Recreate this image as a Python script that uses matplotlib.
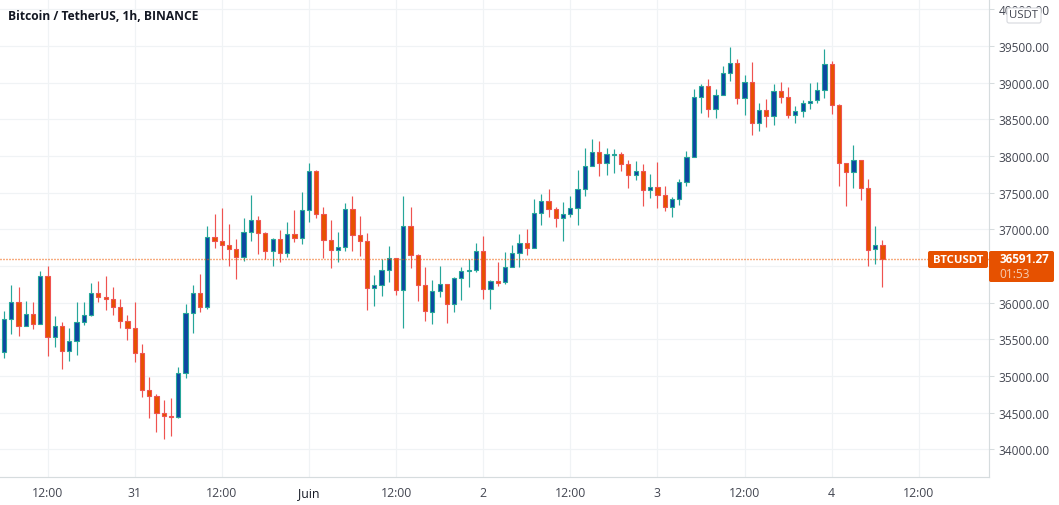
"""plot.py - BTC/USDT 1h candles, redrawn as a trading-view style chart."""
import numpy as np
import matplotlib
matplotlib.use("Agg")
import matplotlib.pyplot as plt
from matplotlib.patches import FancyBboxPatch
from matplotlib.transforms import Affine2D

UP_FILL, UP_EDGE = "#0d47a1", "#26a69a"
DOWN_FILL, DOWN_EDGE = "#e65100", "#ef5350"
GRID = "#f0f3f5"
AXIS = "#d6dcde"
TEXT = "#434651"

W, H = 1059, 506

# candles from 30 May 06:00, one per hour
opens = [35323, 35773, 36004, 35677, 35841, 35704, 36359, 35527, 35677, 35346,
         35473, 35732, 35827, 36127, 36081, 36054, 35936, 35745, 35650, 35309,
         34805, 34723, 34491, 34460, 34446, 35037, 35854, 36127, 35936, 36890,
         36836, 36781, 36727, 36618, 36958, 37122, 36945, 36699, 36863, 36672,
         36931, 36876, 37258, 37799, 37204, 36849, 36713, 36754, 37272, 36917,
         36836, 36195, 36236, 36440, 36604, 36168, 37040, 36645, 36236, 35869,
         36155, 36250, 35978, 36332, 36428, 36441, 36700, 36182, 36291, 36278,
         36482, 36673, 36809, 36741, 37218, 37382, 37273, 37150, 37204, 37286,
         37545, 37858, 38049, 37899, 38017, 38022, 37885, 37736, 37790, 37531,
         37572, 37472, 37299, 37408, 37640, 37981, 38799, 38949, 38635, 38826,
         39126, 39262, 38785, 39003, 38445, 38622, 38540, 38881, 38799, 38554,
         38608, 38717, 38758, 38894, 39249, 38690, 37899, 37776, 37940, 37558,
         36727, 36781]
highs = [35886, 36240, 36213, 36022, 36009, 36431, 36499, 35818, 35736, 35654,
         36004, 36004, 36268, 36295, 36363, 36213, 36050, 35832, 36009, 35436,
         34987, 34755, 34673, 34700, 35123, 35982, 36240, 36390, 37045, 37208,
         37290, 37072, 36867, 37154, 37467, 37181, 36963, 36881, 36990, 37099,
         37263, 37508, 37903, 37808, 37299, 37126, 36963, 37358, 37453, 37181,
         36949, 36377, 36590, 36772, 36604, 37453, 37304, 36660, 36486, 36309,
         36500, 36250, 36350, 36487, 36591, 36814, 36909, 36305, 36555, 36691,
         36782, 36932, 37005, 37413, 37482, 37550, 37304, 37373, 37454, 37808,
         38108, 38231, 38203, 38108, 38094, 38054, 37945, 37931, 37890, 37754,
         37917, 37590, 37436, 37686, 38067, 38913, 38981, 39049, 38913, 39226,
         39485, 39321, 39103, 39281, 38722, 38776, 38981, 39008, 38940, 38681,
         38763, 38994, 39008, 39458, 39294, 38708, 37899, 38149, 37940, 37686,
         37045, 36854]
lows = [35250, 35573, 35545, 35677, 35641, 35704, 35273, 35395, 35096, 35205,
        35286, 35695, 35813, 36009, 35900, 35832, 35654, 35491, 35191, 34714,
        34428, 34237, 34142, 34183, 34432, 34973, 35586, 35873, 35913, 36745,
        36595, 36499, 36322, 36568, 36840, 36663, 36595, 36499, 36554, 36622,
        36827, 36799, 37099, 37154, 36608, 36472, 36554, 36704, 36704, 36636,
        35900, 35954, 36091, 36281, 36104, 35654, 36472, 36022, 35750, 35710,
        36078, 35723, 35873, 36037, 36214, 36419, 36051, 35914, 36228, 36255,
        36482, 36487, 36650, 36741, 37059, 37168, 37032, 36841, 37168, 37059,
        37454, 37858, 37726, 37740, 37767, 37795, 37563, 37672, 37318, 37427,
        37290, 37249, 37168, 37331, 37590, 37981, 38585, 38531, 38517, 38826,
        39022, 38708, 38558, 38286, 38340, 38395, 38422, 38722, 38517, 38449,
        38531, 38640, 38722, 38790, 38572, 37590, 37318, 37563, 37399, 36500,
        36527, 36214]
closes = [35773, 36004, 35677, 35841, 35704, 36359, 35527, 35677, 35346, 35473,
          35732, 35827, 36127, 36081, 36054, 35936, 35745, 35650, 35309, 34805,
          34723, 34491, 34460, 34446, 35037, 35854, 36127, 35936, 36890, 36836,
          36781, 36727, 36618, 36958, 37122, 36945, 36699, 36863, 36672, 36931,
          36876, 37258, 37799, 37204, 36849, 36713, 36754, 37272, 36917, 36836,
          36195, 36236, 36440, 36604, 36168, 37040, 36645, 36236, 35882, 36155,
          36250, 35978, 36332, 36428, 36441, 36700, 36182, 36291, 36269, 36482,
          36673, 36809, 36741, 37218, 37382, 37273, 37150, 37204, 37286, 37545,
          37858, 38049, 37899, 38022, 38026, 37885, 37736, 37790, 37531, 37572,
          37472, 37299, 37408, 37640, 37981, 38799, 38949, 38635, 38826, 39126,
          39262, 38785, 39003, 38445, 38622, 38540, 38881, 38799, 38554, 38608,
          38717, 38744, 38894, 39249, 38690, 37899, 37776, 37940, 37558, 36713,
          36781, 36591.27]

last_price = 36591.27
price_ticks = list(range(34000, 40500, 500))
time_ticks = [6, 18, 30, 42, 54, 66, 78, 90, 102, 114, 126]
time_labels = ["12:00", "31", "12:00", "Juin", "12:00", "2",
               "12:00", "3", "12:00", "4", "12:00"]

plt.rcParams["font.family"] = ["Open Sans", "DejaVu Sans"]

fig = plt.figure(figsize=(W / 100, H / 100), dpi=100)
ax = fig.add_axes([0, 28 / H, 989 / W, 478 / H])
ax.set_xlim(-0.55, 135.67)
ax.set_ylim(33624, 40139)

o = np.array(opens, dtype=float)
h = np.array(highs, dtype=float)
l = np.array(lows, dtype=float)
c = np.array(closes, dtype=float)
x = np.arange(len(o))
up = c >= o

# wicks under bodies
ax.vlines(x[up], l[up], h[up], color=UP_EDGE, lw=0.85, zorder=3)
ax.vlines(x[~up], l[~up], h[~up], color=DOWN_EDGE, lw=0.85, zorder=3)
bottoms = np.minimum(o, c)
heights = np.abs(c - o)
ax.bar(x[up], heights[up], 0.58, bottoms[up], color=UP_FILL,
       edgecolor=UP_EDGE, lw=0.8, zorder=4)
ax.bar(x[~up], heights[~up], 0.58, bottoms[~up], color=DOWN_FILL,
       edgecolor=DOWN_EDGE, lw=0.8, zorder=4)

ax.axhline(last_price, color="#f05a00", lw=1.0, ls=(0, (0.72, 1.44)), zorder=5,
           dash_capstyle="butt")

# axes and grid
ax.set_axisbelow(True)
ax.grid(True, color=GRID, lw=0.85)
for s in ("top", "left"):
    ax.spines[s].set_visible(False)
for s in ("right", "bottom"):
    ax.spines[s].set_color(AXIS)
    ax.spines[s].set_linewidth(0.85)
ax.yaxis.tick_right()
ax.set_yticks(price_ticks)
# 36500 sits behind the last-price box
ax.set_yticklabels(["" if p == 36500 else f"{p:.2f}" for p in price_ticks])
ax.set_xticks(time_ticks)
ax.set_xticklabels(time_labels)
ax.tick_params(axis="y", length=3.4, width=0.75, color=AXIS, labelcolor=TEXT,
               labelsize=8.6, pad=3.6)
ax.tick_params(axis="x", length=0, labelcolor=TEXT, labelsize=8.8, pad=6.5)
ax.get_xticklabels()[3].set_color("#131722")

# overlays are placed in pixels, y going down
px = Affine2D().scale(1, -1).translate(0, H)


def box(x0, y0, x1, y1, face, edge="none", lw=0):
    fig.add_artist(FancyBboxPatch((x0, y0), x1 - x0, y1 - y0,
                                  boxstyle="round,pad=0,rounding_size=2",
                                  fc=face, ec=edge, lw=lw, transform=px, zorder=6))


def label(x0, y0, s, **kw):
    fig.add_artist(plt.Text(x0, y0, s, transform=px, va="center", zorder=7, **kw))


box(928, 252, 988, 269, DOWN_FILL)
box(989, 252, 1054, 283, DOWN_FILL)
label(958, 260.5, "BTCUSDT", color="white", fontsize=8.2, weight="bold", ha="center")
label(999, 260, "36591.27", color="white", fontsize=8.4, weight="bold")
label(999, 275, "01:53", color="#f5cdb3", fontsize=8.6)

box(1007, 9, 1041, 24, "white", "#d6d8dd", 0.8)
label(1024, 16, "USDT", color=TEXT, fontsize=8.2, ha="center")

label(8, 16.5, "Bitcoin / TetherUS, 1h, BINANCE", color="#131722", fontsize=8.65,
      weight="bold")

fig.savefig("out.png", dpi=100)
plt.close(fig)
